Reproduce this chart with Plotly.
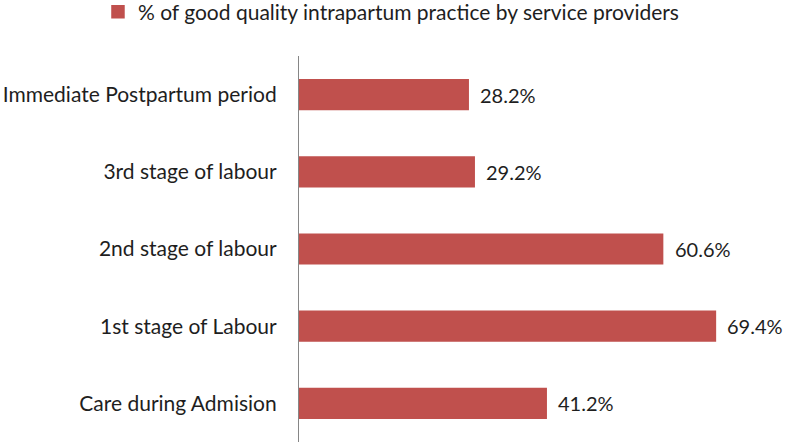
import plotly.graph_objects as go

categories = ["Care during Admision", "1st stage of Labour", "2nd stage of labour",
              "3rd stage of labour", "Immediate Postpartum period"]
values = [41.2, 69.4, 60.6, 29.2, 28.2]
labels = [f"{v:.1f}%" for v in values]
series_name = "% of good quality intrapartum practice by service providers"

FONT = "Lato, Open Sans, sans-serif"
BAR = "#C0504D"
TXT = "#1e1e1e"
FS = 21

fig = go.Figure(go.Bar(
    y=categories, x=values, orientation="h", name=series_name,
    marker=dict(color=BAR, line=dict(width=1.5, color=BAR)), width=0.385,
    showlegend=True,
))

for c, v, t in zip(categories, values, labels):
    fig.add_annotation(x=v, y=c, text=t, showarrow=False, xanchor="left",
                       xshift=10, font=dict(family=FONT, size=20, color=TXT))

fig.update_layout(
    width=787, height=444,
    margin=dict(l=299, r=8, t=56, b=2, autoexpand=False),
    paper_bgcolor="white", plot_bgcolor="white",
    font=dict(family=FONT, size=FS, color=TXT),
    showlegend=True,
    legend=dict(orientation="h", xref="container", yref="paper",
                x=0.1245, y=1.114, xanchor="left", yanchor="middle",
                font=dict(family=FONT, size=FS, color=TXT),
                itemwidth=30),
    xaxis=dict(range=[0, 80], showgrid=False, showticklabels=False, zeroline=False,
               showline=False, ticks="", automargin=False),
    yaxis=dict(range=[-0.5, 4.5], showgrid=False, zeroline=False, automargin=False,
               showline=True, linecolor="#868686", linewidth=1.2, ticks="",
               ticklabelstandoff=17, tickfont=dict(family=FONT, size=FS, color=TXT)),
)

fig.write_html("out.html", config={"displayModeBar": False},
               post_script="document.body.style.margin='0';")
